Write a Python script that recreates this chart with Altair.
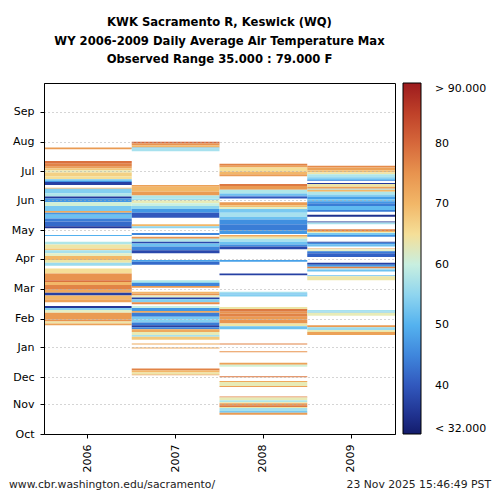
import altair as alt
import pandas as pd

years = ["2006", "2007", "2008", "2009"]

# day-of-water-year runs [start, end) and daily-max air temperature (F)
s2006 = [296,281,278,276,274,272,268,265,263,262,259,255,250,247,245,241,237,232,230,228,224,221,216,214,206,197,193,191,188,185,181,178,175,167,160,158,155,150,147,144,140,137,131,129,126,119,117,115,113]
e2006 = [298,284,281,278,276,274,272,268,265,263,262,256,255,250,247,245,241,237,232,230,228,224,221,216,207,200,197,193,191,188,185,181,178,172,167,160,158,155,150,147,144,140,133,131,129,126,119,117,115]
v2006 = [74,79,77,73,68,63,67,65,53,47,37,70,54,58,36,47,61,53,72,47,52,44,42,36,50,58,64,68,57,62,70,64,56,65,75,79,70,77,72,37,70,73,36,54,62,74,75,64,73]

s2007 = [302,300,298,297,294,257,252,248,245,243,240,237,234,230,225,216,214,207,203,200,198,195,191,188,179,176,158,157,154,152,146,144,142,140,137,135,131,128,126,122,119,116,113,111,109,106,103,101,98,93,89,66,64,62,61]
e2007 = [304,302,300,298,297,259,257,252,248,245,243,240,237,234,230,218,216,209,205,203,200,198,195,191,181,179,160,158,157,154,148,146,144,142,140,137,133,131,128,126,122,119,116,113,111,109,106,103,101,94,90,68,66,64,62]
v2007 = [80,75,70,52,57,73,70,74,58,56,63,60,55,47,40,70,55,45,75,58,38,52,45,38,48,42,58,55,45,74,70,75,62,37,54,76,60,47,72,44,53,54,44,37,45,72,63,57,68,72,72,77,70,64,73]

s2008 = [279,277,273,270,268,258,254,250,248,247,245,238,236,234,230,226,223,218,212,208,205,203,200,197,195,192,179,165,146,145,143,130,127,125,122,119,115,112,109,93,85,72,70,59,54,50,49,38,35,33,32,30,28,27,24,22,20]
e2008 = [281,279,277,273,270,260,258,254,250,248,247,241,238,236,234,230,226,223,218,212,207,205,203,200,197,195,181,167,148,146,145,132,130,127,125,122,119,115,112,94,86,74,72,60,55,54,50,39,38,35,33,32,30,28,27,24,22]
v2008 = [77,73,65,70,74,78,74,58,52,47,40,74,69,62,53,57,52,46,44,47,72,64,57,52,46,38,48,37,57,50,54,64,78,75,77,74,75,64,52,77,75,73,61,78,72,63,73,77,63,58,64,74,78,64,57,53,74]

s2009 = [277,274,272,270,268,266,264,263,260,257,255,254,252,249,247,244,242,240,237,233,231,226,220,218,211,210,209,207,205,199,197,195,192,190,188,184,176,174,172,171,169,164,160,127,126,123,111,108,106,103]
e2009 = [279,277,274,272,270,268,266,264,261,260,257,255,254,252,249,247,244,242,240,237,233,228,221,220,213,211,210,209,207,200,199,197,193,192,190,188,178,176,174,172,171,165,164,129,127,126,113,111,108,106]
v2009 = [76,73,69,64,58,56,52,45,36,64,73,57,70,58,54,48,52,47,44,51,44,35,35,57,77,70,62,53,46,36,46,52,73,62,44,41,37,47,77,58,52,52,64,57,54,63,74,56,64,73]

month_labels = ["Oct", "Nov", "Dec", "Jan", "Feb", "Mar", "Apr", "May", "Jun", "Jul", "Aug", "Sep"]
month_days = [0, 31, 59, 90, 120, 151, 182, 212, 243, 273, 304, 335]

color_stops = [32, 36, 40, 45, 50, 53, 57, 60, 62, 65, 70, 75, 80, 85, 90]
color_range = ["#131c6b", "#22389a", "#3158bd", "#3f86dc", "#54b2ef", "#79c9f1",
               "#a7e1ee", "#c8efe0", "#e4efc7", "#f5df98", "#f2b768", "#e8944f",
               "#d6683b", "#bf4129", "#9d1b1e"]
legend_values = [32, 40, 50, 60, 70, 80, 90]

rows = []
for yr, ss, ee, vv in zip(years, [s2006, s2007, s2008, s2009], [e2006, e2007, e2008, e2009], [v2006, v2007, v2008, v2009]):
    for a, b, v in zip(ss, ee, vv):
        rows.append({"year": yr, "start": a, "end": b, "temp": v})
df = pd.DataFrame(rows)

lab_arr = "[" + ",".join("'%s'" % m for m in month_labels) + "]"
day_arr = "[" + ",".join(str(d) for d in month_days) + "]"

heat = alt.Chart(df).mark_rect(strokeWidth=0).encode(
    x=alt.X("year:N", scale=alt.Scale(domain=years, paddingInner=0, paddingOuter=0),
            axis=alt.Axis(title=None, labelAngle=270, labelFont="DejaVu Sans", labelFontSize=11,
                          labelColor="#000", tickColor="#000", domainColor="#000", tickSize=4,
                          labelPadding=6, zindex=1)),
    y=alt.Y("start:Q", scale=alt.Scale(domain=[0, 365], nice=False, zero=False),
            axis=alt.Axis(title=None, values=month_days,
                          labelExpr=lab_arr + "[indexof(" + day_arr + ", datum.value)]",
                          labelFont="DejaVu Sans", labelFontSize=11, labelColor="#000",
                          tickColor="#000", domainColor="#000", tickSize=4, labelPadding=6,
                          grid=True, gridDash=[1, 3], gridColor="#aaaaaa", gridWidth=1, zindex=1)),
    y2="end:Q",
    color=alt.Color("temp:Q",
                    scale=alt.Scale(domain=color_stops, range=color_range, clamp=True),
                    legend=alt.Legend(orient="none", legendX=359, legendY=0, direction="vertical",
                                      title=None, gradientLength=351, gradientThickness=18,
                                      values=legend_values,
                                      labelExpr="datum.value == 90 ? '> 90.000' : datum.value == 32 ? '< 32.000' : datum.label",
                                      gradientStrokeColor="#000", gradientStrokeWidth=1,
                                      labelFont="DejaVu Sans", labelFontSize=11, labelColor="#000",
                                      labelOffset=14, labelBaseline="middle", padding=0)),
)

foot_left = alt.Chart(pd.DataFrame({"t": ["www.cbr.washington.edu/sacramento/"]})).mark_text(
    align="left", baseline="middle", font="DejaVu Sans", fontSize=10.8, color="#222"
).encode(text="t:N", x=alt.value(-35), y=alt.value(402))

foot_right = alt.Chart(pd.DataFrame({"t": ["23 Nov 2025 15:46:49 PST"]})).mark_text(
    align="right", baseline="middle", font="DejaVu Sans", fontSize=10.8, color="#222"
).encode(text="t:N", x=alt.value(447), y=alt.value(402))

chart = alt.layer(heat, foot_left, foot_right).properties(
    width=351, height=351,
    title=alt.TitleParams(
        text=["KWK Sacramento R, Keswick (WQ)",
              "WY 2006-2009 Daily Average Air Temperature Max",
              "Observed Range 35.000 : 79.000 F"],
        font="DejaVu Sans", fontSize=11.6, fontWeight="bold", color="#000",
        anchor="middle", lineHeight=18.5, offset=17),
    padding={"left": 36, "top": 75, "right": 97, "bottom": 58},
    autosize=alt.AutoSizeParams(type="none"),
).configure_view(stroke="#000", strokeWidth=1)

chart.save("out.html", embed_options={"renderer": "svg", "actions": False})
